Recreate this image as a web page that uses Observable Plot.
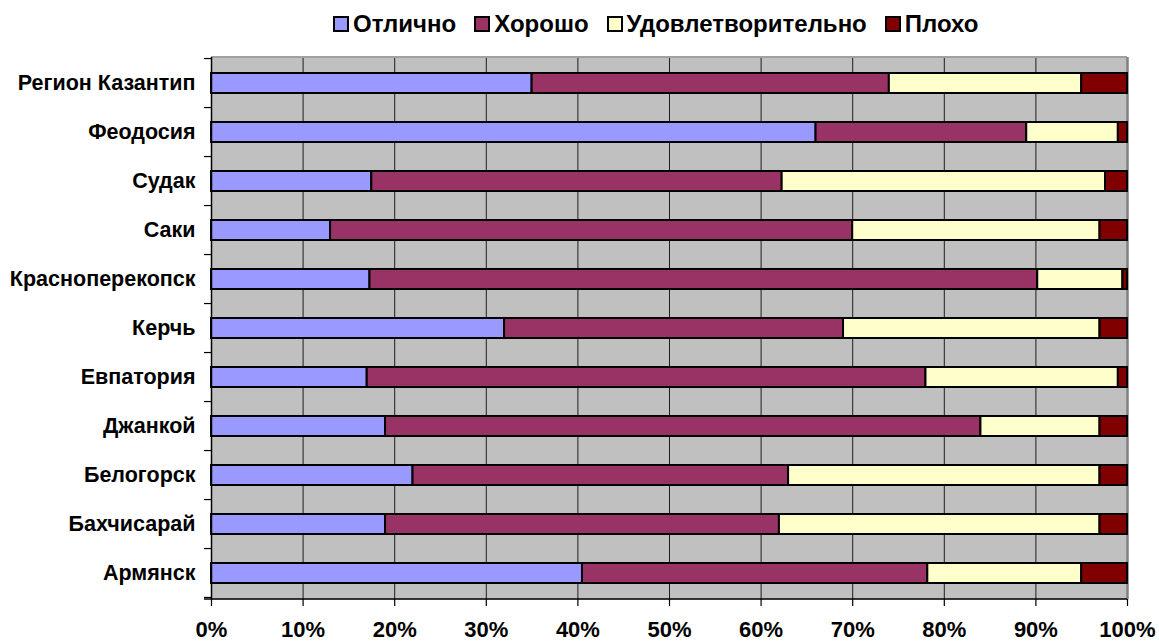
<!DOCTYPE html>
<html>
<head>
<meta charset="utf-8">
<script src="https://cdn.jsdelivr.net/npm/d3@7"></script>
<script src="https://cdn.jsdelivr.net/npm/@observablehq/plot@0.6"></script>
<style>
  html, body { margin: 0; padding: 0; background: #fff; }
  body { width: 1159px; height: 644px; position: relative; overflow: hidden; font-family: "Liberation Sans", Arial, sans-serif; }
  #legend { position: absolute; left: 333px; top: 10px; height: 28px; display: flex; align-items: center; font-weight: bold; font-size: 24px; white-space: nowrap; }
  #legend .item { display: flex; align-items: center; margin-right: 18px; }
  #legend .item:last-child { margin-right: 0; }
  #legend .sw { width: 12px; height: 12px; border: 2px solid #000; margin-right: 4px; }
  #chart { position: absolute; left: 0; top: 48px; }
</style>
</head>
<body>
<div id="legend"></div>
<div id="chart"></div>
<script>
const categories = ["Регион Казантип", "Феодосия", "Судак", "Саки", "Красноперекопск", "Керчь", "Евпатория", "Джанкой", "Белогорск", "Бахчисарай", "Армянск"];
const seriesNames = ["Отлично", "Хорошо", "Удовлетворительно", "Плохо"];
const seriesColors = ["#9999FF", "#993366", "#FFFFCC", "#800000"];
const excellent    = [35,   66, 17.5, 13, 17.3, 32, 17, 19, 22, 19, 40.5];
const good         = [39,   23, 44.8, 57, 72.9, 37, 61, 65, 41, 43, 37.7];
const satisfactory = [21,   10, 35.3, 27,  9.3, 28, 21, 13, 34, 35, 16.8];
const poor         = [5,     1,  2.4,  3,  0.5,  3,  1,  3,  3,  3,  5];
const xTicks = [0, 10, 20, 30, 40, 50, 60, 70, 80, 90, 100];

const seriesValues = [excellent, good, satisfactory, poor];
const data = [];
categories.forEach((c, i) => {
  seriesValues.forEach((vals, s) => {
    data.push({category: c, series: seriesNames[s], value: vals[i]});
  });
});

// legend
const legend = document.getElementById("legend");
seriesNames.forEach((n, i) => {
  const it = document.createElement("div");
  it.className = "item";
  const sw = document.createElement("div");
  sw.className = "sw";
  sw.style.background = seriesColors[i];
  const t = document.createElement("span");
  t.textContent = n;
  it.appendChild(sw); it.appendChild(t);
  legend.appendChild(it);
});

const padInner = 0.59;

// tick marks at band boundaries on the y axis
function yBoundaryTicks(index, scales, values, dimensions) {
  const y = scales.y;
  const step = y.step();
  const g = d3.create("svg:g");
  const xs = dimensions.marginLeft;
  const ys = categories.map(c => y(c) - step * padInner / 2);
  ys.push(y(categories[categories.length - 1]) + y.bandwidth() + step * padInner / 2);
  ys.forEach(v => {
    g.append("line").attr("x1", xs - 7).attr("x2", xs).attr("y1", v).attr("y2", v)
      .attr("stroke", "#000").attr("stroke-width", 1.2);
  });
  return g.node();
}

function topBorder(index, scales, values, d) {
  const g = d3.create("svg:g");
  g.append("line").attr("x1", d.marginLeft).attr("x2", d.width - d.marginRight)
    .attr("y1", d.marginTop).attr("y2", d.marginTop).attr("stroke", "#A0A0A0").attr("stroke-width", 2);
  return g.node();
}

function bottomAxisLine(index, scales, values, d) {
  const g = d3.create("svg:g");
  const yb = d.height - d.marginBottom;
  g.append("line").attr("x1", d.marginLeft - 7).attr("x2", d.width - d.marginRight)
    .attr("y1", yb).attr("y2", yb).attr("stroke", "#000").attr("stroke-width", 1.5);
  return g.node();
}

const chart = Plot.plot({
  width: 1159,
  height: 596,
  marginLeft: 211,
  marginRight: 32,
  marginTop: 9,
  marginBottom: 45,
  style: {fontFamily: "'Liberation Sans', Arial, sans-serif", background: "transparent", overflow: "visible"},
  x: {domain: [0, 100], axis: null, label: null},
  y: {domain: categories, paddingInner: padInner, paddingOuter: padInner / 2, axis: null, label: null},
  color: {domain: seriesNames, range: seriesColors},
  marks: [
    Plot.frame({fill: "#C0C0C0", stroke: null}),
    Plot.ruleX(xTicks.filter(d => d > 0 && d < 100), {stroke: "#000", strokeWidth: 1, strokeOpacity: 0.85}),
    Plot.ruleX([100], {stroke: "#808080", strokeWidth: 2.5}),
    topBorder,
    Plot.barX(data, Plot.stackX({
      y: "category", x: "value", fill: "series", order: seriesNames,
      stroke: "#000", strokeWidth: 2
    })),
    Plot.ruleX([0], {stroke: "#000", strokeWidth: 1.5}),
    Plot.axisX(xTicks, {
      anchor: "bottom", tickSize: 7, tickPadding: 15, tickFormat: d => d + "%",
      fontSize: 22, fontWeight: "bold", fill: "#000", strokeWidth: 1.2, label: null
    }),
    bottomAxisLine,
    Plot.axisY({
      anchor: "left", tickSize: 0, tickPadding: 16, fontSize: 21.5, fontWeight: "bold", fill: "#000", label: null
    }),
    yBoundaryTicks
  ]
});
document.getElementById("chart").appendChild(chart);
</script>
</body>
</html>
